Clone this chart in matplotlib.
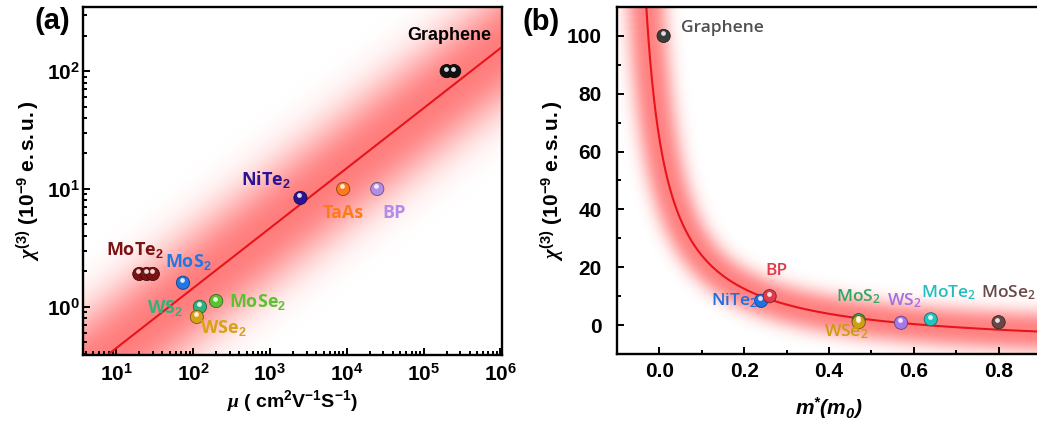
import numpy as np
import matplotlib
matplotlib.use("Agg")
import matplotlib.pyplot as plt
from matplotlib import transforms
from matplotlib.ticker import LogLocator, NullFormatter, MultipleLocator, FuncFormatter
from matplotlib.colors import to_rgb

# ---------------- panel (a): chi(3) vs carrier mobility ----------------
a_names = ["Graphene", "Graphene", "NiTe$_\\mathbf{2}$", "TaAs", "BP", "MoTe$_\\mathbf{2}$",
           "MoTe$_\\mathbf{2}$", "MoTe$_\\mathbf{2}$", "MoS$_\\mathbf{2}$", "WS$_\\mathbf{2}$",
           "MoSe$_\\mathbf{2}$", "WSe$_\\mathbf{2}$"]
a_mu = [2.0e5, 2.5e5, 2500, 9000, 2.5e4, 20, 25, 30, 74, 123, 200, 112]
a_chi = [100, 100, 8.4, 10, 10, 1.9, 1.9, 1.9, 1.6, 1.0, 1.12, 0.82]
a_colors = ["#111111", "#111111", "#2b1394", "#ff7a1c", "#b48ce8", "#7d1212", "#7d1212", "#7d1212",
            "#1f78e6", "#2fb27c", "#5cc232", "#d6a218"]
# linear fit in log-log space: log10(chi) = slope*log10(mu) + icpt
a_slope, a_icpt = 0.509, -0.86

# ---------------- panel (b): chi(3) vs effective mass ----------------
b_names = ["Graphene", "NiTe$_2$", "BP", "MoS$_2$", "WSe$_2$", "WS$_2$", "MoTe$_2$", "MoSe$_2$"]
b_mass = [0.01, 0.24, 0.26, 0.47, 0.47, 0.57, 0.64, 0.80]
b_chi = [100, 8.4, 10, 1.7, 1.0, 0.8, 2.0, 1.0]
b_colors = ["#3c3c3c", "#1f72e6", "#e23a4a", "#2eaa62", "#cfa010", "#a878e6", "#22c4c0", "#6b4646"]
b_text_colors = ["#505050", "#1f6fe0", "#e03a4a", "#2ea862", "#c89e10", "#a070e0", "#20c0c0", "#6a4848"]
# hyperbolic fit: chi = A/(m - m0) + c
b_A, b_m0, b_c = 5.81, -0.08, -8.2

plt.rcParams["font.family"] = "Liberation Sans"
plt.rcParams["font.weight"] = "bold"
plt.rcParams["mathtext.fontset"] = "custom"
plt.rcParams["mathtext.rm"] = "Liberation Sans"
plt.rcParams["mathtext.it"] = "Liberation Serif:italic"
plt.rcParams["mathtext.bf"] = "Liberation Sans:bold"
plt.rcParams["mathtext.bfit"] = "Liberation Sans:bold:italic"
plt.rcParams["mathtext.default"] = "regular"

W, H = 1037, 425
fig = plt.figure(figsize=(W / 100, H / 100), dpi=100)
axA = fig.add_axes([83 / W, 1 - 355 / H, 419 / W, 348 / H])
axB = fig.add_axes([617 / W, 1 - 354 / H, 424 / W, 347 / H])


def glow(ax, dist, sigma, amax, p=2.0):
    a = amax * np.exp(-0.5 * (dist / sigma) ** p)
    img = np.zeros(dist.shape + (4,))
    img[..., 0] = 1.0
    img[..., 1] = 0.15
    img[..., 2] = 0.15
    img[..., 3] = a
    ax.imshow(img, extent=(0, 1, 0, 1), transform=ax.transAxes, origin="lower",
              aspect="auto", interpolation="bilinear", zorder=0)


def spheres(ax, x, y, colors, size=90):
    edge = [tuple(0.55 * np.array(to_rgb(c))) for c in colors]
    ax.scatter(x, y, s=size, c=colors, edgecolors=edge, linewidths=0.6, zorder=3)
    hl = transforms.offset_copy(ax.transData, fig=fig, x=-0.8, y=1.8, units="points")
    ax.scatter(x, y, s=size * 0.13, c="white", alpha=0.85, linewidths=0, zorder=4, transform=hl)


# ---- panel (a) ----
xlo, xhi = 3.7, 1.05e6
ylo, yhi = 0.39, 350
axA.set_xscale("log")
axA.set_yscale("log")
axA.set_xlim(xlo, xhi)
axA.set_ylim(ylo, yhi)
wa, ha = 419, 348
uu, vv = np.meshgrid(np.arange(wa) + 0.5, np.arange(ha) + 0.5)
lx = np.log10(xlo) + uu / wa * (np.log10(xhi) - np.log10(xlo))
ly = np.log10(ylo) + vv / ha * (np.log10(yhi) - np.log10(ylo))
px_x = wa / (np.log10(xhi) - np.log10(xlo))
px_y = ha / (np.log10(yhi) - np.log10(ylo))
dv = (ly - (a_slope * lx + a_icpt)) * px_y
k = a_slope * px_y / px_x
glow(axA, np.abs(dv) / np.sqrt(1 + k * k), 37, 0.6, p=2.4)

mu_line = np.logspace(np.log10(xlo), np.log10(xhi), 200)
axA.plot(mu_line, 10 ** (a_slope * np.log10(mu_line) + a_icpt), color="#e8141c", lw=1.5, zorder=2)
spheres(axA, a_mu, a_chi, a_colors)
axA.set_xlim(xlo, xhi)
axA.set_ylim(ylo, yhi)

a_offsets = {0: (2, 26), 2: (-25, 13), 3: (0, -17), 4: (12, -17), 5: (-3, 17),
             8: (4, 15), 9: (-25, -1), 10: (30, -1), 11: (19, -8)}
for i, (dx, dy) in a_offsets.items():
    fam = "Liberation Sans" if i == 0 else "Open Sans"
    col = "black" if i == 0 else a_colors[i]
    axA.annotate(a_names[i], (a_mu[i], a_chi[i]), xytext=(dx, dy), textcoords="offset points",
                 ha="center", va="center", fontsize=13, fontweight="bold", family=fam, color=col,
                 zorder=5)

logfmt = FuncFormatter(lambda v, pos: r"$\mathbf{10^{%d}}$" % round(np.log10(v)))
axA.xaxis.set_major_locator(LogLocator(base=10, numticks=10))
axA.xaxis.set_major_formatter(logfmt)
axA.yaxis.set_major_formatter(logfmt)
axA.xaxis.set_minor_locator(LogLocator(base=10, subs=np.arange(2, 10), numticks=20))
axA.yaxis.set_minor_locator(LogLocator(base=10, subs=np.arange(2, 10), numticks=20))
axA.xaxis.set_minor_formatter(NullFormatter())
axA.yaxis.set_minor_formatter(NullFormatter())
axA.set_xlabel(r"$\mathit{\mu}\mathbf{\ (\ cm^{2}V^{-1}S^{-1})}$", fontsize=14, labelpad=2)
axA.set_ylabel(r"$\mathit{\chi}^{\mathbf{(3)}}\mathbf{\ (10^{-9}\ e.s.u.)}$", fontsize=15, labelpad=3)

# ---- panel (b) ----
bxlo, bxhi, bylo, byhi = -0.1, 0.9, -10, 110
axB.set_xlim(bxlo, bxhi)
axB.set_ylim(bylo, byhi)
wb, hb = 424, 347
ub, vb = np.meshgrid(np.arange(wb) + 0.5, np.arange(hb) + 0.5)
m_curve = np.linspace(b_m0 + 0.03, 1.0, 900)
chi_curve = b_A / (m_curve - b_m0) + b_c
cu = (m_curve - bxlo) / (bxhi - bxlo) * wb
cv = (chi_curve - bylo) / (byhi - bylo) * hb
dist = np.full(ub.shape, 1e9)
for x0, y0 in zip(cu, cv):
    np.minimum(dist, (ub - x0) ** 2 + (vb - y0) ** 2, out=dist)
glow(axB, np.sqrt(dist), 16, 0.58, p=2.6)
axB.plot(m_curve, chi_curve, color="#e8141c", lw=1.5, zorder=2)
spheres(axB, b_mass, b_chi, b_colors)
axB.set_xlim(bxlo, bxhi)
axB.set_ylim(bylo, byhi)

b_offsets = [(42, 6), (-19, 0), (5, 18), (0, 17), (-9, -7), (2, 16), (13, 19), (7, 21)]
for i, (dx, dy) in enumerate(b_offsets):
    axB.annotate(b_names[i], (b_mass[i], b_chi[i]), xytext=(dx, dy), textcoords="offset points",
                 ha="center", va="center", fontsize=12.5, fontweight="semibold", family="Open Sans",
                 color=b_text_colors[i], zorder=5)

axB.xaxis.set_major_locator(MultipleLocator(0.2))
axB.xaxis.set_minor_locator(MultipleLocator(0.1))
axB.yaxis.set_major_locator(MultipleLocator(20))
axB.yaxis.set_minor_locator(MultipleLocator(10))
axB.set_xticks([0.0, 0.2, 0.4, 0.6, 0.8])
axB.set_xticklabels(["0.0", "0.2", "0.4", "0.6", "0.8"])
axB.set_xlim(bxlo, bxhi)
axB.set_xlabel(r"$\mathbfit{m^{*}(m_{0})}$", fontsize=15, labelpad=10)
axB.set_ylabel(r"$\mathit{\chi}^{\mathbf{(3)}}\mathbf{\ (10^{-9}\ e.s.u.)}$", fontsize=15, labelpad=0)

for ax in (axA, axB):
    for s in ax.spines.values():
        s.set_linewidth(1.7)
    ax.tick_params(which="both", direction="in", top=False, right=False, labelsize=15, width=1.4)
    ax.tick_params(which="major", length=5)
    ax.tick_params(which="minor", length=3)
    for t in ax.get_xticklabels() + ax.get_yticklabels():
        t.set_fontweight("bold")
axA.tick_params(axis="x", which="major", pad=6)
axA.tick_params(axis="y", which="major", pad=2)
axB.tick_params(axis="x", which="major", pad=6)
axB.tick_params(axis="y", which="major", pad=11)

fig.text(52 / W, 1 - 21 / H, "(a)", fontsize=21, fontweight="bold", ha="center", va="center")
fig.text(541 / W, 1 - 22 / H, "(b)", fontsize=21, fontweight="bold", ha="center", va="center")

fig.savefig("out.png", dpi=100)
